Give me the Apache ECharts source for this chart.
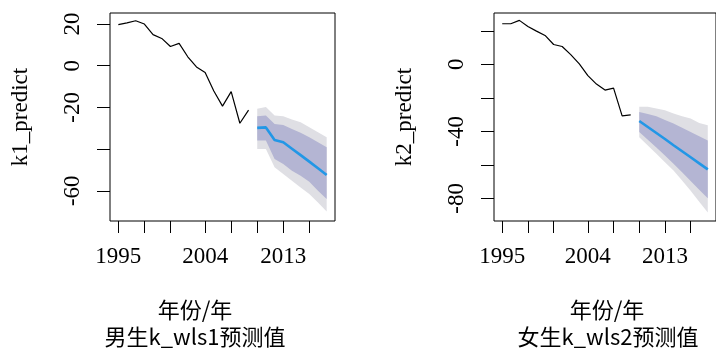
<!DOCTYPE html>
<html>
<head>
<meta charset="utf-8">
<script src="https://cdn.jsdelivr.net/npm/echarts@6/dist/echarts.min.js"></script>
<style>html,body{margin:0;padding:0;background:#fff}#c{width:716px;height:350px}</style>
</head>
<body>
<div id="c"></div>
<script>
// ---- data ----
const histIdx = [0,1,2,3,4,5,6,7,8,9,10,11,12,13,14,15];
const fcIdx = [16,17,18,19,20,21,22,23,24];

const k1Hist = [19.7,20.6,21.6,20.0,14.9,13.1,9.2,10.7,4.3,-0.6,-3.3,-12.1,-19.4,-12.4,-27.6,-21.3];
const k1Fc   = [-29.8,-29.6,-35.6,-36.7,-39.8,-42.9,-46.0,-49.2,-52.4];
const k1Lo80 = [-35.9,-35.9,-44.7,-47.1,-50.4,-52.8,-55.7,-60.0,-64.0];
const k1Hi80 = [-24.3,-23.9,-27.9,-28.4,-30.3,-32.2,-34.3,-36.7,-39.1];
const k1Lo95 = [-39.9,-39.9,-48.7,-52.0,-55.2,-58.4,-61.6,-65.6,-70.0];
const k1Hi95 = [-20.6,-19.8,-23.9,-24.2,-25.8,-27.1,-29.5,-31.9,-34.3];

const k2Hist = [24.2,24.2,26.2,22.6,19.8,17.2,11.8,10.6,5.8,0.2,-6.8,-11.8,-15.4,-14.2,-30.8,-30.2];
const k2Fc   = [-33.8,-37.4,-41.0,-44.6,-48.3,-51.9,-55.5,-59.1,-62.7];
const k2Lo80 = [-40.4,-45.0,-49.6,-54.4,-59.4,-64.4,-69.6,-74.8,-80.0];
const k2Hi80 = [-28.4,-29.6,-31.0,-33.2,-35.4,-37.9,-40.4,-42.9,-45.4];
const k2Lo95 = [-43.5,-48.5,-53.4,-58.4,-63.4,-69.4,-75.4,-82.0,-88.5];
const k2Hi95 = [-25.4,-25.4,-26.4,-27.4,-29.4,-31.0,-32.4,-35.0,-36.4];

const xTickPos = [0,3,6,10,13,16,19,22];
const xLabelPos = [0,10,19];
const xLabelText = ['1995','2004','2013'];

const y1Ticks = [20,0,-20,-40,-60];
const y1Labels = [20,0,-20,-60];
const y2Ticks = [20,0,-20,-40,-60,-80];
const y2Labels = [0,-40,-80];

// ---- chart ----
const FONT = "'Liberation Serif','Times New Roman','Noto Sans CJK SC',serif";
const CJK = "'Noto Sans CJK SC','Liberation Serif',sans-serif";
const C_OUT = '#dfdfe4', C_IN = '#b4b5d3', C_LINE = '#2297E6';

function pairs(xs, ys){ return xs.map((x,i)=>[x, ys[i]]); }
function triples(xs, lo, hi){ return xs.map((x,i)=>[x, lo[i], hi[i]]); }

function xAxisFor(gi){
  return {
    type:'value', gridIndex:gi, min:-0.96, max:24.96,
    axisLine:{show:false, onZero:false}, splitLine:{show:false},
    axisTick:{show:true, inside:false, length:12, customValues:xTickPos, lineStyle:{color:'#000',width:1}},
    axisLabel:{customValues:xLabelPos, margin:24, color:'#000', fontFamily:FONT, fontSize:23,
      formatter:(v)=>{const k=xLabelPos.indexOf(Math.round(v)); return k>=0?xLabelText[k]:'';}}
  };
}
function yAxisFor(gi, min, max, ticks, labels, name){
  return {
    type:'value', gridIndex:gi, min:min, max:max,
    axisLine:{show:false, onZero:false}, splitLine:{show:false},
    axisTick:{show:true, length:13, customValues:ticks, lineStyle:{color:'#000',width:1}},
    axisLabel:{customValues:labels, rotate:90, margin:26, color:'#000', fontFamily:FONT, fontSize:23},
    name:name, nameLocation:'middle', nameRotate:90, nameGap:78,
    nameTextStyle:{color:'#000', fontFamily:FONT, fontSize:23}
  };
}
function bandSeries(gi, data, color){
  return {
    type:'custom', xAxisIndex:gi, yAxisIndex:gi, silent:true, animation:false,
    encode:{x:0, y:[1,2]},
    data:data,
    renderItem:function(params, api){
      const n = params.dataInsideLength;
      if (params.dataIndexInside !== n-1) return null;
      const up = [], dn = [];
      for (let j=0;j<n;j++){
        const x = api.value(0, j);
        up.push(api.coord([x, api.value(2, j)]));
        dn.push(api.coord([x, api.value(1, j)]));
      }
      const pts = up.concat(dn.reverse());
      return {type:'polygon', shape:{points:pts}, style:{fill:color, stroke:null}};
    }
  };
}
function seriesFor(gi, hist, fc, lo80, hi80, lo95, hi95){
  const base = {xAxisIndex:gi, yAxisIndex:gi, type:'line', showSymbol:false, symbol:'none', silent:true, animation:false};
  return [
    bandSeries(gi, triples(fcIdx, lo95, hi95), C_OUT),
    bandSeries(gi, triples(fcIdx, lo80, hi80), C_IN),
    Object.assign({}, base, {data:pairs(histIdx, hist), lineStyle:{color:'#000', width:1.2}}),
    Object.assign({}, base, {data:pairs(fcIdx, fc), lineStyle:{color:C_LINE, width:2.6}})
  ];
}

const chart = echarts.init(document.getElementById('c'), null, {renderer:'canvas'});
chart.setOption({
  animation:false,
  backgroundColor:'#fff',
  grid:[
    {left:110, top:13, width:225, height:208, show:true, borderColor:'#000', borderWidth:1, backgroundColor:'transparent'},
    {left:494, top:13, width:223, height:208, show:true, borderColor:'#000', borderWidth:1, backgroundColor:'transparent'}
  ],
  xAxis:[xAxisFor(0), xAxisFor(1)],
  yAxis:[
    yAxisFor(0, -74.5, 25.3, y1Ticks, y1Labels, 'k1_predict'),
    yAxisFor(1, -93.5, 30.6, y2Ticks, y2Labels, 'k2_predict')
  ],
  series:[].concat(
    seriesFor(0, k1Hist, k1Fc, k1Lo80, k1Hi80, k1Lo95, k1Hi95),
    seriesFor(1, k2Hist, k2Fc, k2Lo80, k2Hi80, k2Lo95, k2Hi95)
  ),
  graphic:[
    {type:'text', style:{text:'年份/年', x:195, y:310, align:'center', verticalAlign:'middle', font:"22px "+CJK, fill:'#000'}},
    {type:'text', style:{text:'男生k_wls1预测值', x:195, y:337, align:'center', verticalAlign:'middle', font:"22px "+CJK, fill:'#000'}},
    {type:'text', style:{text:'年份/年', x:607, y:310, align:'center', verticalAlign:'middle', font:"22px "+CJK, fill:'#000'}},
    {type:'text', style:{text:'女生k_wls2预测值', x:608, y:337, align:'center', verticalAlign:'middle', font:"22px "+CJK, fill:'#000'}}
  ]
});
</script>
</body>
</html>
